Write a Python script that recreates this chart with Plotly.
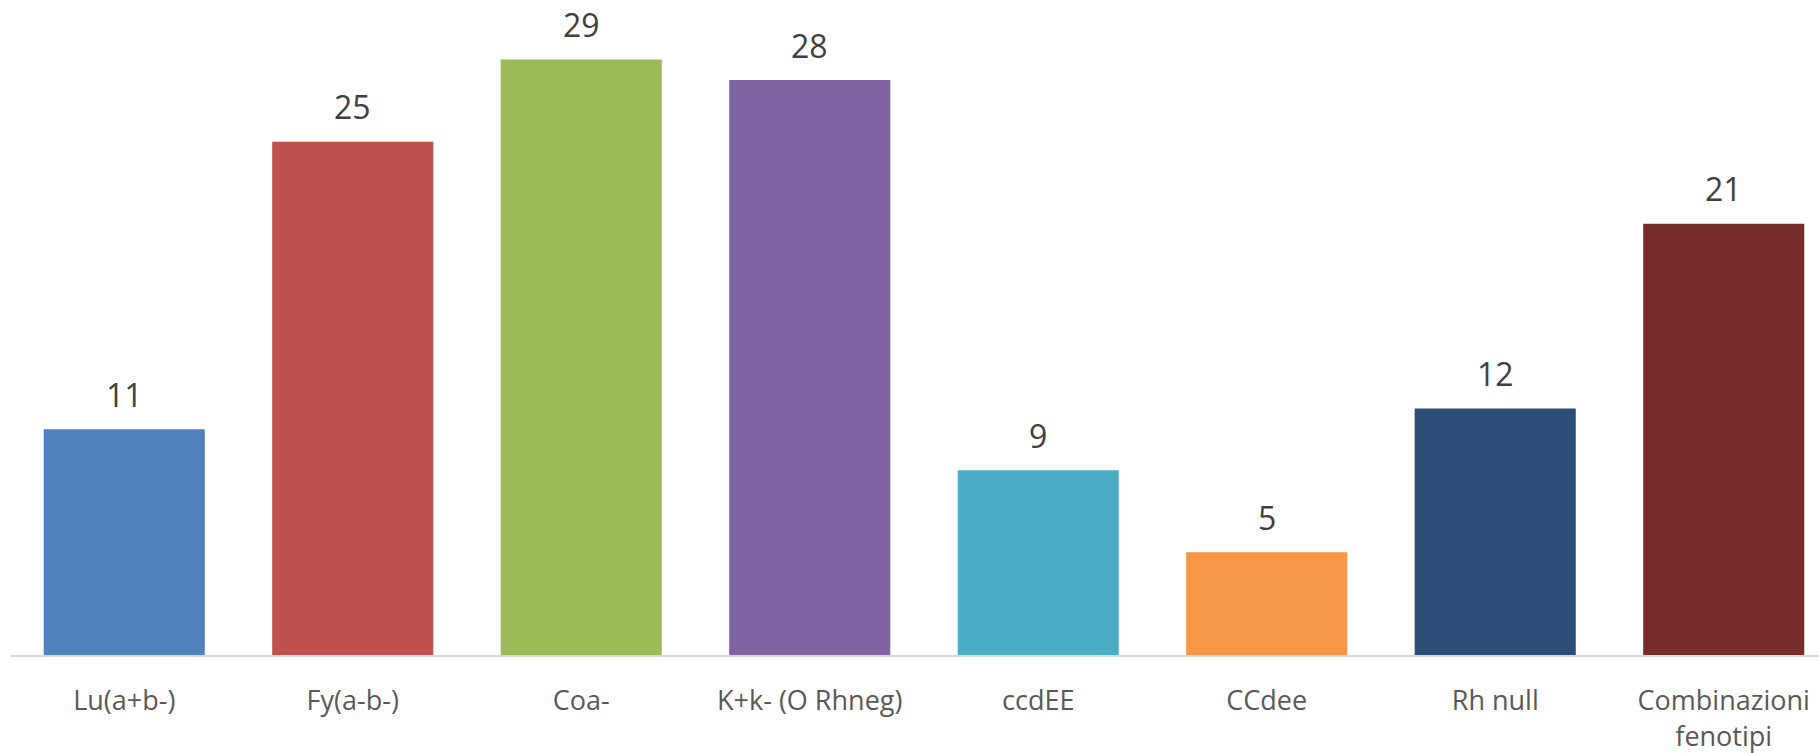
import plotly.graph_objects as go

# categories and counts
categories = [
    "Lu(a+b-)",
    "Fy(a-b-)",
    "Coa-",
    "K+k- (O Rhneg)",
    "ccdEE",
    "CCdee",
    "Rh null",
    "Combinazioni<br>fenotipi",
]
counts = [11, 25, 29, 28, 9, 5, 12, 21]
bar_colors = [
    "#4F81BD",
    "#C0504D",
    "#9BBB59",
    "#8064A2",
    "#4BACC6",
    "#F79646",
    "#2C4D75",
    "#772C2A",
]

fig = go.Figure(
    go.Bar(
        x=categories,
        y=counts,
        marker=dict(color=bar_colors, line=dict(width=0)),
        width=0.705,
        hoverinfo="x+y",
    )
)

# value labels above the bars
for cat, val in zip(categories, counts):
    fig.add_annotation(
        x=cat,
        y=val,
        text=str(val),
        showarrow=False,
        yanchor="middle",
        yshift=35,
        font=dict(family="Open Sans", size=32, color="#404040"),
    )

fig.update_layout(
    width=1819,
    height=753,
    margin=dict(l=10, r=0, t=0, b=98),
    paper_bgcolor="white",
    plot_bgcolor="white",
    showlegend=False,
    font=dict(family="Open Sans", color="#595959"),
)

fig.update_xaxes(
    type="category",
    range=[-0.5, 7.417],
    showline=True,
    linecolor="#D9D9D9",
    linewidth=2,
    showgrid=False,
    ticks="",
    automargin=False,
    tickfont=dict(family="Open Sans", size=27, color="#595959"),
    ticklabelstandoff=21,
)
fig.update_yaxes(
    range=[0, 31.9],
    visible=False,
    showgrid=False,
    zeroline=False,
)

fig.write_html(
    "out.html",
    config={"displayModeBar": False},
    post_script="document.body.style.margin='0';",
)
